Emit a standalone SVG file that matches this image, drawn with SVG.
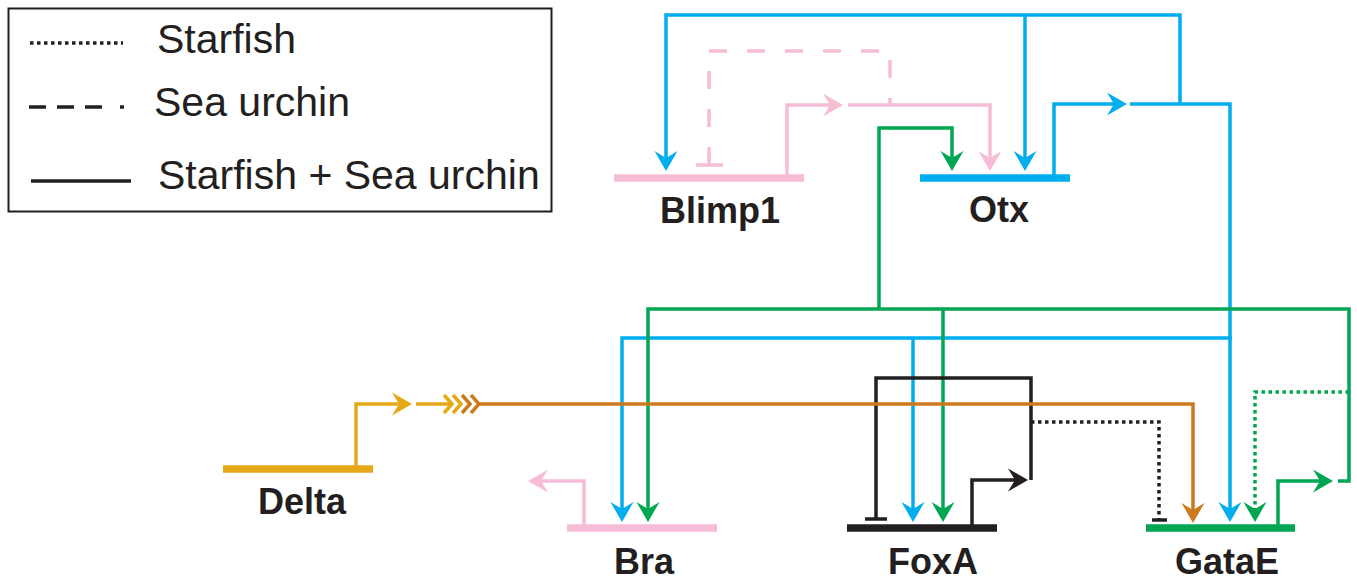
<svg xmlns="http://www.w3.org/2000/svg" width="1357" height="582" viewBox="0 0 1357 582">
  <style>
    .ln { fill: none; stroke-width: 3.5; stroke-linejoin: miter; stroke-linecap: butt; }
    .bar { stroke-width: 7.5; stroke-linecap: butt; }
    .dot { stroke-dasharray: 3.5 3.5; }
    .dash { stroke-dasharray: 18 20; }
    .blue { stroke: #00AEEF; }
    .pink { stroke: #F7BDD7; }
    .green { stroke: #00A651; }
    .black { stroke: #231F20; }
    .yellow { stroke: #E6A817; }
    .orange { stroke: #CD7A1E; }
    .gene { font-family: "Liberation Sans", Arial, sans-serif; font-weight: bold; font-size: 36px; fill: #231F20; text-anchor: middle; }
    .legend { font-family: "Liberation Sans", Arial, sans-serif; font-size: 41px; fill: #231F20; }
  </style>
  <defs>
    <marker id="ah-blue" viewBox="0 -12 22 24" markerUnits="userSpaceOnUse" markerWidth="22" markerHeight="24" refX="8" refY="0" orient="auto" overflow="visible">
      <path d="M0,-11.5 L20,0 L0,11.5 L7,0 Z" fill="#00AEEF"/>
    </marker>
    <marker id="ah-pink" viewBox="0 -12 22 24" markerUnits="userSpaceOnUse" markerWidth="22" markerHeight="24" refX="8" refY="0" orient="auto" overflow="visible">
      <path d="M0,-11.5 L20,0 L0,11.5 L7,0 Z" fill="#F7BDD7"/>
    </marker>
    <marker id="ah-green" viewBox="0 -12 22 24" markerUnits="userSpaceOnUse" markerWidth="22" markerHeight="24" refX="8" refY="0" orient="auto" overflow="visible">
      <path d="M0,-11.5 L20,0 L0,11.5 L7,0 Z" fill="#00A651"/>
    </marker>
    <marker id="ah-black" viewBox="0 -12 22 24" markerUnits="userSpaceOnUse" markerWidth="22" markerHeight="24" refX="8" refY="0" orient="auto" overflow="visible">
      <path d="M0,-11.5 L20,0 L0,11.5 L7,0 Z" fill="#231F20"/>
    </marker>
    <marker id="ah-yellow" viewBox="0 -12 22 24" markerUnits="userSpaceOnUse" markerWidth="22" markerHeight="24" refX="8" refY="0" orient="auto" overflow="visible">
      <path d="M0,-11.5 L20,0 L0,11.5 L7,0 Z" fill="#E6A817"/>
    </marker>
    <marker id="ah-orange" viewBox="0 -12 22 24" markerUnits="userSpaceOnUse" markerWidth="22" markerHeight="24" refX="8" refY="0" orient="auto" overflow="visible">
      <path d="M0,-11.5 L20,0 L0,11.5 L7,0 Z" fill="#CD7A1E"/>
    </marker>
  </defs>

  <!-- legend -->
  <g id="legend">
    <rect x="8.5" y="8.5" width="543" height="203" fill="none" stroke="#231F20" stroke-width="2"/>
    <path class="ln black dot" d="M30,43 H123" stroke-width="3"/>
    <path class="ln black" d="M29,107 H126" stroke-width="3.5" stroke-dasharray="17 11 17 11 17 18 4 100"/>
    <path class="ln black" d="M31,181 H131" stroke-width="2.5"/>
    <text class="legend" x="157" y="53">Starfish</text>
    <text class="legend" x="154" y="116">Sea urchin</text>
    <text class="legend" x="158" y="189">Starfish + Sea urchin</text>
  </g>

  <!-- connectors -->
  <g id="connectors">
    <!-- Otx outputs -->
    <path class="ln blue" d="M1054,178 V104 H1115" marker-end="url(#ah-blue)"/>
    <path class="ln blue" d="M1130,104 H1230 V510" marker-end="url(#ah-blue)"/>
    <path class="ln blue" d="M1180,104 V15 H666 V159" marker-end="url(#ah-blue)"/>
    <path class="ln blue" d="M1025,15 V159" marker-end="url(#ah-blue)"/>
    <path class="ln blue" d="M1232,338 H622 V510" marker-end="url(#ah-blue)"/>
    <path class="ln blue" d="M913,338 V510" marker-end="url(#ah-blue)"/>

    <!-- Blimp1 outputs -->
    <path class="ln pink" d="M787,178 V105 H831" marker-end="url(#ah-pink)"/>
    <path class="ln pink" d="M848,105 H990 V159" marker-end="url(#ah-pink)"/>
    <path class="ln pink dash" d="M709,165 V51 H890 V105"/>
    <path class="ln pink" d="M696,165 H723" stroke-width="3"/>

    <!-- Bra promoter -->
    <path class="ln pink" d="M584,528 V481 H540" marker-end="url(#ah-pink)"/>

    <!-- GataE outputs -->
    <path class="ln green" d="M1278,528 V481 H1321" marker-end="url(#ah-green)"/>
    <path class="ln green" d="M1338,481 H1349 V309 H648 V510" marker-end="url(#ah-green)"/>
    <path class="ln green" d="M879,309 V128 H952 V159" marker-end="url(#ah-green)"/>
    <path class="ln green" d="M943,309 V510" marker-end="url(#ah-green)"/>
    <path class="ln green dot" d="M1349,392 H1255 V510" marker-end="url(#ah-green)"/>

    <!-- FoxA outputs -->
    <path class="ln black" d="M972,528 V480 H1016" marker-end="url(#ah-black)"/>
    <path class="ln black" d="M1031,480 V378 H876 V519"/>
    <path class="ln black" d="M865,519 H887"/>
    <path class="ln black dot" d="M1031,422 H1159 V520"/>
    <path class="ln black" d="M1152,520 H1167"/>

    <!-- Delta signalling -->
    <path class="ln yellow" d="M356,469 V404 H400" marker-end="url(#ah-yellow)"/>
    <path class="ln yellow" d="M416,404 H452"/>
    <path class="ln yellow" d="M444,395 L452,404 L444,413 M453,395 L461,404 L453,413"/>
    <path class="ln orange" d="M462,395 L470,404 L462,413 M471,395 L479,404 L471,413"/>
    <path class="ln orange" d="M479,404 H1193 V511" marker-end="url(#ah-orange)"/>
  </g>

  <!-- genes -->
  <g id="Blimp1">
    <path class="bar pink" d="M614,178 H804"/>
    <text class="gene" x="720" y="223">Blimp1</text>
  </g>
  <g id="Otx">
    <path class="bar blue" d="M920,178 H1070"/>
    <text class="gene" x="999" y="222">Otx</text>
  </g>
  <g id="Delta">
    <path class="bar yellow" d="M223,469 H373"/>
    <text class="gene" x="302" y="514">Delta</text>
  </g>
  <g id="Bra">
    <path class="bar pink" d="M567,528 H717"/>
    <text class="gene" x="644" y="574">Bra</text>
  </g>
  <g id="FoxA">
    <path class="bar black" d="M847,528 H997"/>
    <text class="gene" x="933" y="574">FoxA</text>
  </g>
  <g id="GataE">
    <path class="bar green" d="M1146,528 H1295"/>
    <text class="gene" x="1227" y="574">GataE</text>
  </g>
</svg>
